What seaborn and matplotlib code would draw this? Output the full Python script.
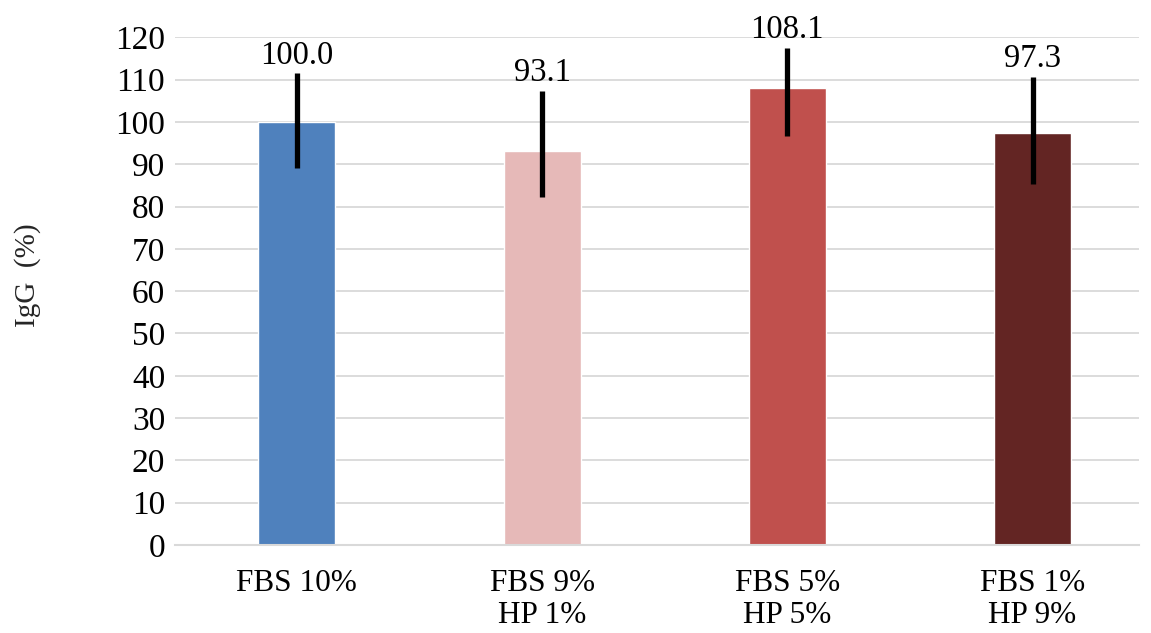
import numpy as np
import pandas as pd
import seaborn as sns
import matplotlib
matplotlib.use('Agg')
import matplotlib.pyplot as plt

# data
groups = ['FBS 10%', 'FBS 9%\nHP 1%', 'FBS 5%\nHP 5%', 'FBS 1%\nHP 9%']
igg = [100.0, 93.1, 108.1, 97.3]
err_low = [11.0, 10.8, 11.5, 12.0]
err_high = [11.5, 14.2, 9.4, 13.3]
bar_colors = ['#4F81BD', '#E6B9B8', '#C0504D', '#632523']

sns.set_theme(style='white')
plt.rcParams['font.family'] = ['Liberation Serif', 'DejaVu Serif']

df = pd.DataFrame({'group': groups, 'igg': igg})

fig = plt.figure(figsize=(11.51, 6.33), dpi=100)
ax = fig.add_axes([0.152, 0.139, 0.838, 0.802])

sns.barplot(data=df, x='group', y='igg', hue='group', palette=bar_colors,
            width=0.314, errorbar=None, legend=False, saturation=1, ax=ax)

# error bars and value labels at the bar centres
xs = [p.get_x() + p.get_width() / 2 for p in ax.patches]
ax.errorbar(xs, igg, yerr=[err_low, err_high], fmt='none', ecolor='black',
            elinewidth=3.8, capsize=0, zorder=5)
for x, v, eh in zip(xs, igg, err_high):
    ax.annotate(f'{v:.1f}', (x, v + eh), xytext=(0, 7), textcoords='offset points',
                ha='center', va='baseline', fontsize=23.5, color='black',
                annotation_clip=False)

ax.set_ylim(0, 120)
ax.set_yticks(np.arange(0, 121, 10))
ax.set_xlim(-0.497, 3.436)
ax.yaxis.grid(True, color='#d9d9d9', linewidth=1.3)
ax.set_axisbelow(True)
for s in ['top', 'right', 'left']:
    ax.spines[s].set_visible(False)
ax.spines['bottom'].set_color('#d9d9d9')
ax.spines['bottom'].set_linewidth(1.5)
ax.tick_params(axis='y', length=0, labelsize=24, colors='black', pad=7)
ax.tick_params(axis='x', length=0, labelsize=22.5, colors='black', pad=17)
for lab in ax.get_xticklabels():
    lab.set_linespacing(1.15)
ax.set_xlabel('')
ax.set_ylabel('IgG  (%)', fontsize=21)
ax.yaxis.set_label_coords(-0.139, 0.531)

fig.savefig('out.png', dpi=100)
